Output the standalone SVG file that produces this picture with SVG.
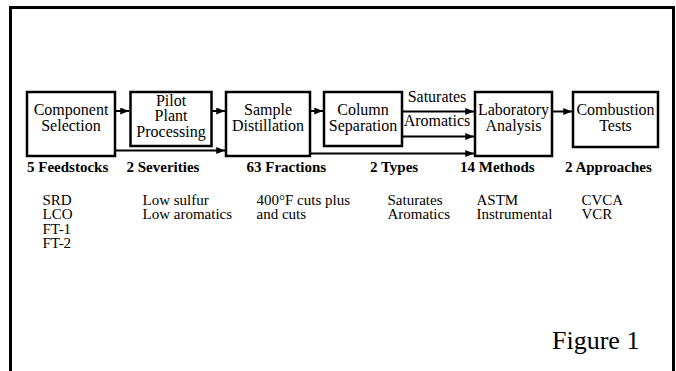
<svg xmlns="http://www.w3.org/2000/svg" width="676" height="371" viewBox="0 0 676 371">
<style>
.box{fill:#fff;stroke:#000;stroke-width:2.5}
.bt{font-family:"Liberation Serif","Times New Roman",serif;font-size:16px;text-anchor:middle;fill:#000}
.lb{font-family:"Liberation Serif","Times New Roman",serif;font-size:15px;font-weight:bold;fill:#000}
.ls{font-family:"Liberation Serif","Times New Roman",serif;font-size:15px;fill:#000}
.cl{fill:none;stroke:#000;stroke-width:2}
</style>
<defs>
<marker id="ah" viewBox="0 0 10 8" refX="10" refY="4" markerWidth="9" markerHeight="7" orient="auto" markerUnits="userSpaceOnUse">
<path d="M0,0 L10,4 L0,8 z" fill="#000"/>
</marker>
</defs>
<rect x="0" y="0" width="676" height="371" fill="#fff"/>
<path d="M10.5,375 V7.5 H673.5 V375" fill="none" stroke="#000" stroke-width="3"/>

<g id="connectors">
<line class="cl" x1="116" y1="111" x2="129" y2="111" marker-end="url(#ah)"/>
<line class="cl" x1="212" y1="111" x2="225" y2="111" marker-end="url(#ah)"/>
<line class="cl" x1="310" y1="111" x2="323" y2="111" marker-end="url(#ah)"/>
<line class="cl" x1="402" y1="111.5" x2="474" y2="111.5" marker-end="url(#ah)"/>
<line class="cl" x1="402" y1="136.5" x2="474" y2="136.5" marker-end="url(#ah)"/>
<line class="cl" x1="552" y1="111.5" x2="572" y2="111.5" marker-end="url(#ah)"/>
<line class="cl" x1="116" y1="150.5" x2="225" y2="150.5" marker-end="url(#ah)"/>
<line class="cl" x1="310" y1="153.5" x2="474" y2="153.5" marker-end="url(#ah)"/>
<text class="bt" x="437" y="101.5">Saturates</text>
<text class="bt" x="437" y="125.5">Aromatics</text>
</g>

<g id="component-selection">
<rect class="box" x="27" y="92" width="88" height="64"/>
<text class="bt" x="71" y="115">Component</text>
<text class="bt" x="71" y="130.5">Selection</text>
</g>
<g id="pilot-plant">
<rect class="box" x="130.5" y="92" width="81" height="54"/>
<text class="bt" x="171" y="105.5">Pilot</text>
<text class="bt" x="171" y="121">Plant</text>
<text class="bt" x="171" y="136.5">Processing</text>
</g>
<g id="sample-distillation">
<rect class="box" x="226" y="92" width="84" height="64"/>
<text class="bt" x="268" y="115">Sample</text>
<text class="bt" x="268" y="130.5">Distillation</text>
</g>
<g id="column-separation">
<rect class="box" x="324" y="92" width="78" height="54"/>
<text class="bt" x="363" y="115">Column</text>
<text class="bt" x="363" y="130.5">Separation</text>
</g>
<g id="laboratory-analysis">
<rect class="box" x="475" y="92" width="77" height="64"/>
<text class="bt" x="513.5" y="115">Laboratory</text>
<text class="bt" x="513.5" y="130.5">Analysis</text>
</g>
<g id="combustion-tests">
<rect class="box" x="573" y="92" width="85" height="55"/>
<text class="bt" x="615.5" y="115">Combustion</text>
<text class="bt" x="615.5" y="130.5">Tests</text>
</g>

<g id="labels">
<text class="lb" x="27" y="172">5 Feedstocks</text>
<text class="lb" x="126.5" y="172">2 Severities</text>
<text class="lb" x="246.5" y="172">63 Fractions</text>
<text class="lb" x="370" y="172">2 Types</text>
<text class="lb" x="460" y="172">14 Methods</text>
<text class="lb" x="565" y="172">2 Approaches</text>

<text class="ls" x="42.5" y="204.5">SRD</text>
<text class="ls" x="42.5" y="219">LCO</text>
<text class="ls" x="42.5" y="233.5">FT-1</text>
<text class="ls" x="42.5" y="248">FT-2</text>

<text class="ls" x="142.5" y="204.5">Low sulfur</text>
<text class="ls" x="142.5" y="219">Low aromatics</text>

<text class="ls" x="256.5" y="204.5">400°F cuts plus</text>
<text class="ls" x="256.5" y="219">and cuts</text>

<text class="ls" x="387.5" y="204.5">Saturates</text>
<text class="ls" x="387.5" y="219">Aromatics</text>

<text class="ls" x="476.5" y="204.5">ASTM</text>
<text class="ls" x="476.5" y="219">Instrumental</text>

<text class="ls" x="581.5" y="204.5">CVCA</text>
<text class="ls" x="581.5" y="219">VCR</text>

<text class="ls" x="552" y="349" style="font-size:26px">Figure 1</text>
</g>
</svg>
